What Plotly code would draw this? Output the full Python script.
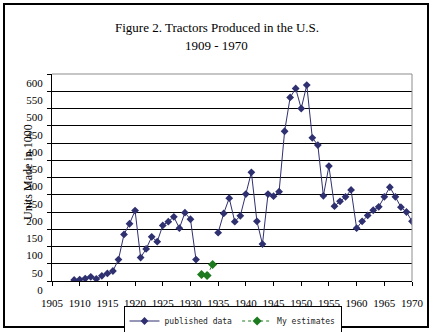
import plotly.graph_objects as go

years = list(range(1909, 1971))
published = [3, 4, 7, 12, 6, 15, 22, 29, 62, 135, 166, 204, 68, 93, 128, 114, 161, 172, 186, 153,
             198, 179, 62, None, None, None, 140, 196, 240, 172, 189, 252, 315, 173, 107, 252,
             246, 259, 434, 532, 558, 500, 568, 415, 394, 247, 333, 217, 231, 244, 264, 153,
             173, 190, 205, 215, 244, 272, 244, 214, 200, 173]
est_years = [1932, 1933, 1934]
estimates = [19, 16, 48]

x_ticks = list(range(1905, 1971, 5))
y_ticks = list(range(0, 601, 50))

W, H = 433, 332
L, R, T, B = 52, 21, 74, 51
pw, ph = W - L - R, H - T - B

def px_x(x):
    return (x - L) / pw

def px_y(y):
    return (H - B - y) / ph

serif = "Liberation Serif, Times New Roman, serif"
navy = "#2F3070"
green = "#1E7A1E"

fig = go.Figure()
fig.add_trace(go.Scatter(
    x=years, y=published, name="published data", mode="lines+markers",
    line=dict(color=navy, width=1), marker=dict(symbol="diamond", size=6, color=navy),
    connectgaps=False))
fig.add_trace(go.Scatter(
    x=est_years, y=estimates, name="My estimates", mode="lines+markers",
    line=dict(color=green, width=1, dash="dot"),
    marker=dict(symbol="diamond", size=7, color=green)))

fig.update_layout(
    width=W, height=H, margin=dict(l=L, r=R, t=T, b=B, autoexpand=False),
    paper_bgcolor="white", plot_bgcolor="white",
    showlegend=True,
    legend=dict(orientation="h", x=232.5 / W, xanchor="center", xref="container",
                y=1 - 305.5 / H, yanchor="top", yref="container",
                bordercolor="black", borderwidth=1, bgcolor="white",
                font=dict(family="DejaVu Sans Mono, monospace", size=8, color="#222222"),
                itemwidth=30, tracegroupgap=0),
    font=dict(family=serif, size=11, color="black"),
)
fig.update_xaxes(range=[1905, 1970], tickvals=x_ticks, ticks="outside", ticklen=4,
                 tickcolor="black", showline=True, linecolor="black", linewidth=1,
                 showgrid=False, zeroline=False, ticklabelstandoff=8, automargin=False,
                 tickfont=dict(family=serif, size=11, color="black"), mirror=False)
fig.update_yaxes(range=[0, 600], tickvals=y_ticks, ticks="outside", ticklen=4,
                 tickcolor="black", showline=True, linecolor="black", linewidth=1,
                 showgrid=True, gridcolor="black", gridwidth=1, zeroline=False,
                 ticklabelshift=9, ticklabelstandoff=2, automargin=False,
                 tickfont=dict(family=serif, size=11, color="black"))

# plot area top/right grey border
fig.add_shape(type="line", xref="paper", yref="paper", x0=0, x1=1, y0=1, y1=1,
              line=dict(color="#8C8C8C", width=1))
fig.add_shape(type="line", xref="paper", yref="paper", x0=1, x1=1, y0=0, y1=1,
              line=dict(color="#8C8C8C", width=1))
# outer chart border
fig.add_shape(type="rect", xref="paper", yref="paper",
              x0=px_x(4), x1=px_x(428), y0=px_y(327), y1=px_y(4),
              line=dict(color="black", width=2), layer="below")

fig.add_annotation(text="Figure 2. Tractors Produced in the U.S.", xref="paper", yref="paper",
                   x=px_x(216.5), y=px_y(27), xanchor="center", yanchor="middle",
                   showarrow=False, font=dict(family=serif, size=13, color="black"))
fig.add_annotation(text="1909 - 1970", xref="paper", yref="paper",
                   x=px_x(216.5), y=px_y(45.5), xanchor="center", yanchor="middle",
                   showarrow=False, font=dict(family=serif, size=13, color="black"))
fig.add_annotation(text="Units Made in 1000", xref="paper", yref="paper",
                   x=px_x(28), y=px_y(172), xanchor="center", yanchor="middle",
                   textangle=-90, showarrow=False, font=dict(family=serif, size=12, color="black"))

fig.write_html("out.html")
